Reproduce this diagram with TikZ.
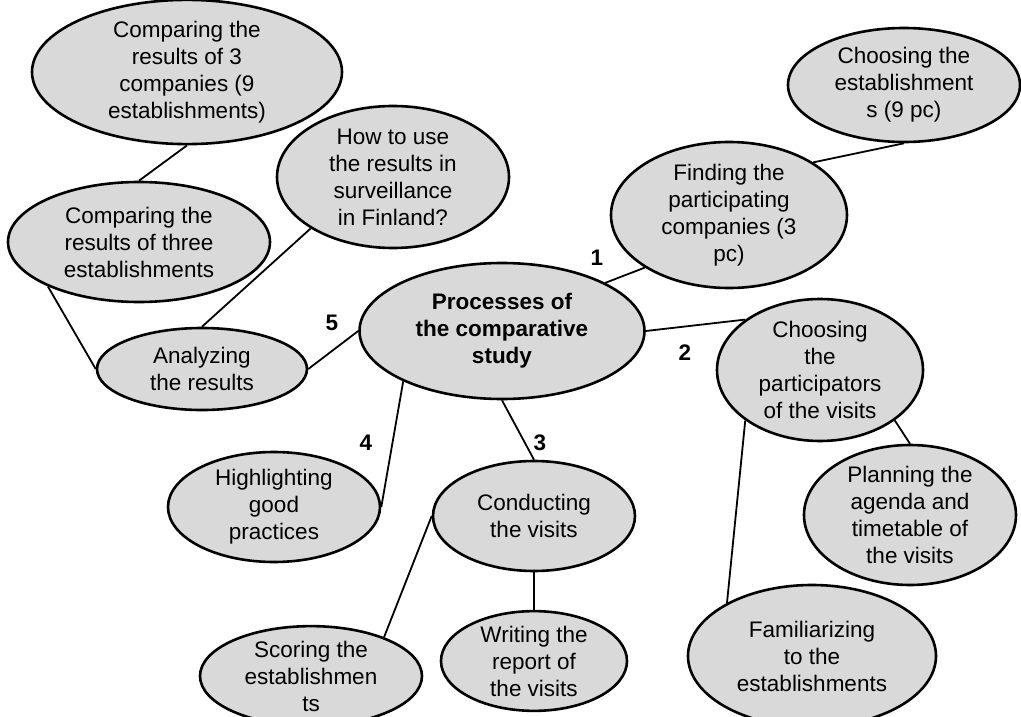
\documentclass[tikz,border=0pt]{standalone}
\usepackage{fontspec}
\setmainfont{Liberation Sans}
\usetikzlibrary{shapes.geometric}
\definecolor{bub}{RGB}{217,217,217}
\tikzset{
  bubble/.style={ellipse, draw=black, fill=bub, line width=2.6pt, inner sep=0pt,
    align=center, font=\fontsize{22.5}{27}\selectfont},
  conn/.style={line width=1.8pt},
  num/.style={font=\fontsize{22.5}{27}\selectfont\bfseries, inner sep=0pt}
}
\begin{document}
\begin{tikzpicture}[x=1pt,y=-1pt]
\useasboundingbox (0,0) rectangle (1021,717);
\fill[white] (0,0) rectangle (1021,717);

\node[bubble, minimum width=310pt, minimum height=126pt] (comp3) at (187,72)
  {Comparing the\\results of 3\\companies (9\\establishments)};
\node[bubble, minimum width=262pt, minimum height=120pt] (three) at (139,242)
  {Comparing the\\results of three\\establishments};
\node[bubble, minimum width=232pt, minimum height=142pt] (how) at (393,177)
  {How to use\\the results in\\surveillance\\in Finland?};
\node[bubble, minimum width=210pt, minimum height=82pt] (anal) at (202,369)
  {Analyzing\\the results};
\node[bubble, minimum width=285pt, minimum height=136pt, font=\fontsize{22.5}{27}\selectfont\bfseries] (center) at (502,331)
  {Processes of\\the comparative\\study};
\node[bubble, minimum width=236pt, minimum height=146pt] (finding) at (729,215)
  {Finding the\\participating\\companies (3\\pc)};
\node[bubble, minimum width=232pt, minimum height=114pt] (chest) at (904,85)
  {Choosing the\\establishment\\s (9 pc)};
\node[bubble, minimum width=206pt, minimum height=142pt] (part) at (820,370)
  {Choosing\\the\\participators\\of the visits};
\node[bubble, minimum width=212pt, minimum height=110pt] (high) at (274,507)
  {Highlighting\\good\\practices};
\node[bubble, minimum width=202pt, minimum height=110pt] (cond) at (534,516)
  {Conducting\\the visits};
\node[bubble, minimum width=212pt, minimum height=140pt] (plan) at (910,515)
  {Planning the\\agenda and\\timetable of\\the visits};
\node[bubble, minimum width=222pt, minimum height=92pt] (score) at (311,676)
  {Scoring the\\establishmen\\ts};
\node[bubble, minimum width=186pt, minimum height=96pt] (write) at (534,661)
  {Writing the\\report of\\the visits};
\node[bubble, minimum width=248pt, minimum height=142pt] (famil) at (812,656)
  {Familiarizing\\to the\\establishments};

\draw[conn] (comp3.-90) -- (three.90);
\draw[conn] (three.206) -- (anal.180);
\draw[conn] (how.212) -- (anal.90);
\draw[conn] (anal.0) -- (center.180);
\draw[conn] (center.25) -- (finding.212);
\draw[conn] (finding.32) -- (chest.-90);
\draw[conn] (center.0) -- (part.146);
\draw[conn] (center.207) -- (high.0);
\draw[conn] (center.-90) -- (cond.90);
\draw[conn] (cond.180) -- (score.28);
\draw[conn] (cond.-90) -- (write.90);
\draw[conn] (part.214) -- (famil.148);
\draw[conn] (part.-34) -- (plan.90);

\node[num] (n1) at (597,258) {1};
\node[num] (n2) at (685,353) {2};
\node[num] (n3) at (540,443) {3};
\node[num] (n4) at (366,443) {4};
\node[num] (n5) at (332,323) {5};
\end{tikzpicture}
\end{document}
